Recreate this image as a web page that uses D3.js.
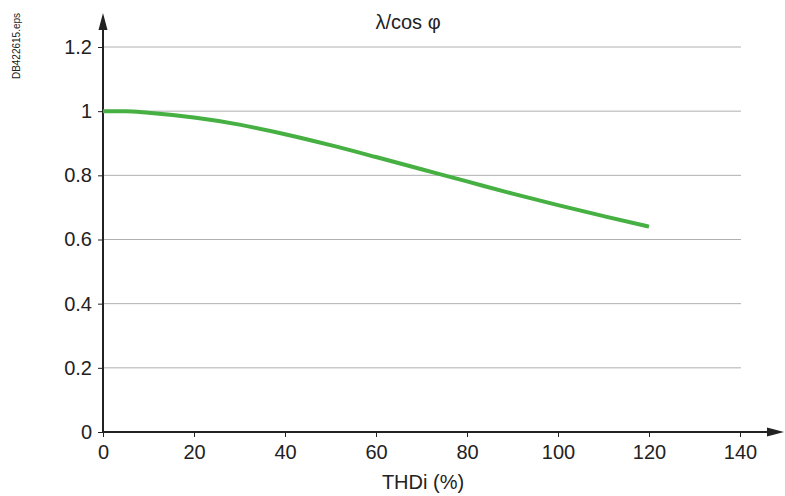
<!DOCTYPE html>
<html><head><meta charset="utf-8">
<script src="https://cdn.jsdelivr.net/npm/d3@7"></script>
<style>body{margin:0;background:#fff}svg{display:block}</style>
</head><body>
<script>
const thdi = [0, 5, 10, 20, 30, 40, 50, 60, 70, 80, 90, 100, 110, 120];
const ratio = [1, 1, 0.995, 0.98, 0.958, 0.928, 0.894, 0.857, 0.819, 0.781, 0.743, 0.707, 0.673, 0.64];
const xTicks = [0, 20, 40, 60, 80, 100, 120, 140];
const yTicks = [0, 0.2, 0.4, 0.6, 0.8, 1, 1.2];
const yTickLabels = ["0", "0.2", "0.4", "0.6", "0.8", "1", "1.2"];

const W = 785, H = 496;
const svg = d3.select("body").append("svg").attr("width", W).attr("height", H);
const x = d3.scaleLinear().domain([0, 140]).range([103, 740]);
const y = d3.scaleLinear().domain([0, 1.2]).range([432, 47]);
const font = "Liberation Sans, Arial, sans-serif";
const fs = 20;

// gridlines
svg.append("g").selectAll("line").data(yTicks.filter(d => d > 0)).join("line")
  .attr("x1", x(0)).attr("x2", 741).attr("y1", d => y(d)).attr("y2", d => y(d))
  .attr("stroke", "#b0b0b0").attr("stroke-width", 1);

// y axis
const yAxis = svg.append("g").attr("transform", `translate(${x(0)},0)`)
  .call(d3.axisLeft(y).tickValues(yTicks).tickFormat((d, i) => yTickLabels[i]).tickSize(5).tickPadding(6));
yAxis.select(".domain").remove();
yAxis.selectAll(".tick line").attr("stroke", "#222");
yAxis.selectAll("text").attr("font-family", font).attr("font-size", fs).attr("fill", "#222");

// x axis
const xAxis = svg.append("g").attr("transform", `translate(0,${y(0)})`)
  .call(d3.axisBottom(x).tickValues(xTicks).tickSize(5).tickPadding(8));
xAxis.select(".domain").remove();
xAxis.selectAll(".tick line").attr("stroke", "#222");
xAxis.selectAll("text").attr("font-family", font).attr("font-size", fs).attr("fill", "#222");

// axis lines with arrows
svg.append("line").attr("x1", x(0)).attr("x2", x(0)).attr("y1", y(0) + 1).attr("y2", 26)
  .attr("stroke", "#222").attr("stroke-width", 2);
svg.append("path").attr("d", `M${x(0)},13 L${x(0) - 4.5},30 L${x(0) + 4.5},30 Z`).attr("fill", "#222");
svg.append("line").attr("x1", x(0) - 1).attr("x2", 770).attr("y1", y(0)).attr("y2", y(0))
  .attr("stroke", "#222").attr("stroke-width", 2);
svg.append("path").attr("d", `M784,${y(0)} L767,${y(0) - 4.5} L767,${y(0) + 4.5} Z`).attr("fill", "#222");

// curve
const line = d3.line().x((d, i) => x(thdi[i])).y(d => y(d)).curve(d3.curveMonotoneX);
svg.append("path").datum(ratio).attr("d", line).attr("fill", "none")
  .attr("stroke", "#46b042").attr("stroke-width", 4);

// texts
svg.append("text").attr("x", 408).attr("y", 29).attr("text-anchor", "middle")
  .attr("font-family", font).attr("font-size", fs).attr("fill", "#222").text("λ/cos φ");
svg.append("text").attr("x", 423).attr("y", 489).attr("text-anchor", "middle")
  .attr("font-family", font).attr("font-size", fs).attr("fill", "#222").text("THDi (%)");
svg.append("text").attr("transform", "translate(19.5,46) rotate(-90)").attr("text-anchor", "middle")
  .attr("font-family", font).attr("font-size", 10).attr("fill", "#222").text("DB422615.eps");
</script>
</body></html>
